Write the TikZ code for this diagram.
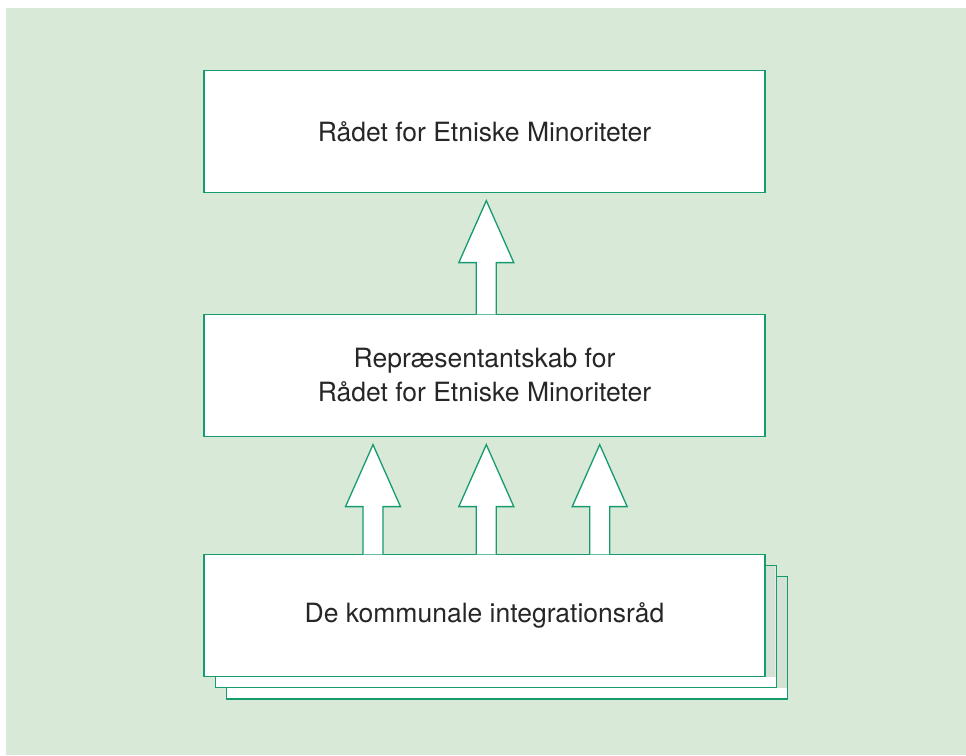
\documentclass[tikz,border=0pt]{standalone}
\usepackage{fontspec}
\setmainfont{TeX Gyre Heros}
\usetikzlibrary{positioning,calc}

\definecolor{bggreen}{HTML}{D8E9D8}
\definecolor{linegreen}{HTML}{169B6E}
\definecolor{shadowgreen}{HTML}{D3E2D5}

% block arrow from the top of #1 up to just under #2, shifted sideways by #3
\newcommand\blockarrow[3]{%
  \coordinate (tip) at ($(#2.south)+(#3,-7.5)$);
  \draw[arrowbody] ($(#1.north)+(#3-10,-0.65)$) -- ($(tip)+(-10,-62)$)
    -- ($(tip)+(-27.5,-62)$) -- (tip) -- ($(tip)+(27.5,-62)$)
    -- ($(tip)+(10,-62)$) -- ($(#1.north)+(#3+10,-0.65)$);
}

\begin{document}
\begin{tikzpicture}[x=1pt,y=1pt,
 box/.style={draw=linegreen, line width=1.3pt, fill=white, minimum width=561pt,
            minimum height=122pt, inner sep=0pt, align=center, text=black!85,
            font=\fontsize{26.5}{34}\selectfont},
 arrowbody/.style={draw=linegreen, line width=1.3pt, fill=white, line join=miter},
 boxshadow/.style={fill=shadowgreen}]

    \useasboundingbox (0,0) rectangle (966,755);
    \fill[bggreen] (6,0) rectangle (966,747);

    \node[box] (raad) at (484.5,623.5) {Rådet for Etniske Minoriteter};
    \node[box, below=120.7pt of raad] (rep) {Repræsentantskab for\\Rådet for Etniske Minoriteter};

    % stack of council sheets, back to front
    \node[box] (komm3) at ($(rep)+(22.6,-262.6)$) {};
    \begin{scope}
        \clip ($(komm3.south west)+(1.3,1.3)$) rectangle ($(komm3.north east)+(-1.3,-1.3)$);
        \fill[boxshadow] ($(rep)+(15.3,-190.3)$) rectangle ($(rep)+(576.3,-312.3)$);
    \end{scope}
    \node[box] (komm2) at ($(rep)+(11.3,-251.3)$) {};
    \begin{scope}
        \clip ($(komm2.south west)+(1.3,1.3)$) rectangle ($(komm2.north east)+(-1.3,-1.3)$);
        \fill[boxshadow] ($(rep)+(4,-179)$) rectangle ($(rep)+(565,-301)$);
    \end{scope}
    \node[box] (komm) at ($(rep)+(0,-240)$) {De kommunale integrationsråd};

    \blockarrow{rep}{raad}{1.8}
    \blockarrow{komm}{rep}{-111.5}
    \blockarrow{komm}{rep}{1.8}
    \blockarrow{komm}{rep}{115.2}
\end{tikzpicture}
\end{document}
